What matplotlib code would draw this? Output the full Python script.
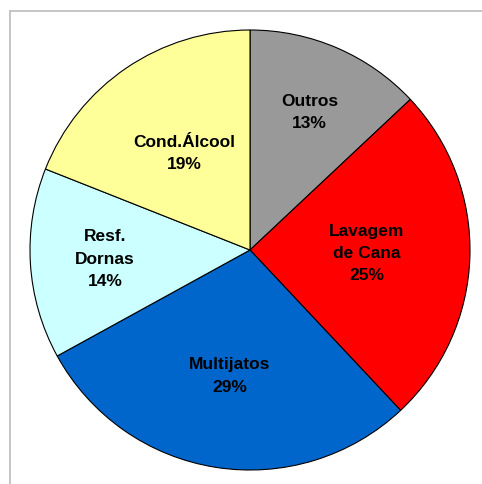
import numpy as np
import matplotlib
matplotlib.use("Agg")
import matplotlib.pyplot as plt
from matplotlib.lines import Line2D

plt.rcParams['font.family'] = ['Liberation Sans', 'DejaVu Sans']

names = ["Outros", "Lavagem\nde Cana", "Multijatos", "Resf.\nDornas", "Cond.Álcool"]
values = [13, 25, 29, 14, 19]
colors = ["#999999", "#FF0000", "#0066CC", "#CCFFFF", "#FFFF99"]

# label distance from centre, per slice (fraction of radius)
label_r = [0.68, 0.53, 0.58, 0.66, 0.53]

fig = plt.figure(figsize=(4.82, 4.84), dpi=100)
ax = fig.add_axes([30 / 482, 14 / 484, 440 / 482, 440 / 484])

wedges, _ = ax.pie(
    values, colors=colors, startangle=90, counterclock=False,
    wedgeprops=dict(edgecolor="black", linewidth=0.8),
)
for w, name, v, r in zip(wedges, names, values, label_r):
    mid = np.deg2rad((w.theta1 + w.theta2) / 2)
    ax.text(r * np.cos(mid), r * np.sin(mid), f"{name}\n{v}%",
            ha="center", va="center", fontsize=12.5, fontweight="bold",
            linespacing=1.6)
ax.set_xlim(-1, 1)
ax.set_ylim(-1, 1)
ax.set_aspect("equal")
ax.axis("off")

# grey chart-area border (left and top only visible)
fig.add_artist(Line2D([9.5 / 482, 9.5 / 482], [0, 1 - 10.5 / 484],
                      color="#c0c0c0", linewidth=1.3))
fig.add_artist(Line2D([9.5 / 482, 1], [1 - 10.5 / 484, 1 - 10.5 / 484],
                      color="#c0c0c0", linewidth=1.3))

fig.savefig("out.png", dpi=100)
